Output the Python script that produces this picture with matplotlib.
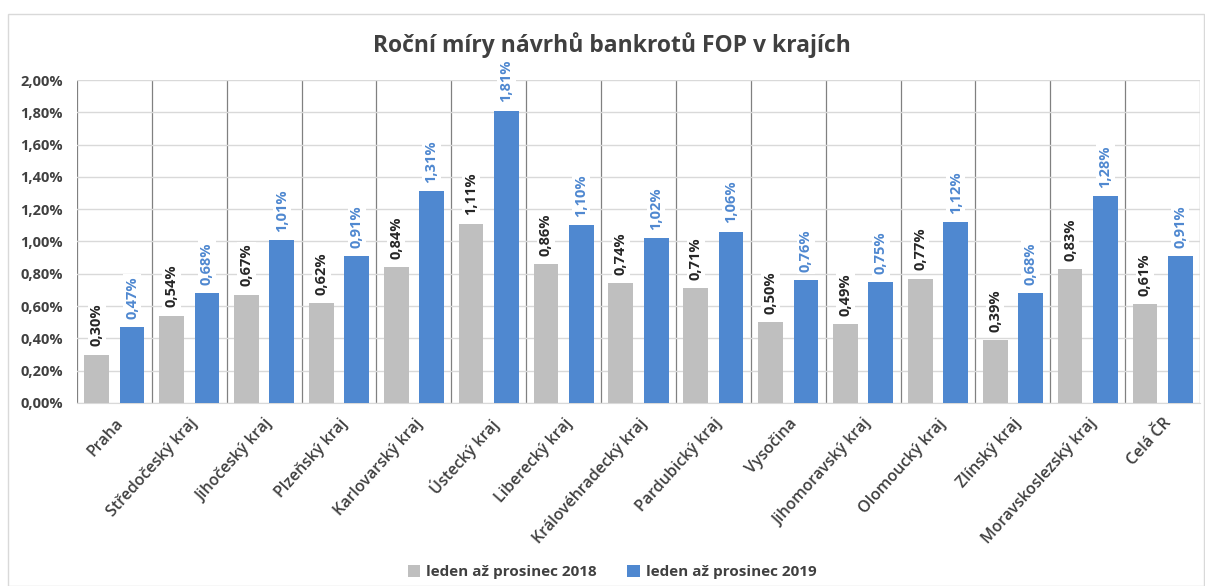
import matplotlib
matplotlib.use("Agg")
import matplotlib.pyplot as plt
from matplotlib.ticker import FuncFormatter, MultipleLocator
from matplotlib.patches import Rectangle
import numpy as np

categories = ["Praha", "Středočeský kraj", "Jihočeský kraj", "Plzeňský kraj",
              "Karlovarský kraj", "Ústecký kraj", "Liberecký kraj",
              "Královéhradecký kraj", "Pardubický kraj", "Vysočina",
              "Jihomoravský kraj", "Olomoucký kraj", "Zlínský kraj",
              "Moravskoslezský kraj", "Celá ČR"]
values_2018 = [0.30, 0.54, 0.67, 0.62, 0.84, 1.11, 0.86, 0.74, 0.71, 0.50,
               0.49, 0.77, 0.39, 0.83, 0.61]
values_2019 = [0.47, 0.68, 1.01, 0.91, 1.31, 1.81, 1.10, 1.02, 1.06, 0.76,
               0.75, 1.12, 0.68, 1.28, 0.91]
series_names = ["leden až prosinec 2018", "leden až prosinec 2019"]
title = "Roční míry návrhů bankrotů FOP v krajích"

plt.rcParams['font.family'] = ['Open Sans', 'DejaVu Sans']

gray = "#BFBFBF"
blue = "#4F88D0"
txt = "#404040"

fig = plt.figure(figsize=(12.05, 5.86), dpi=100)
fig.patches.append(Rectangle((8/1205, 0), 1 - 8/1205 - 0.001, 1 - 14/586,
                             transform=fig.transFigure, fill=False,
                             edgecolor="#D9D9D9", linewidth=1.0))
ax = fig.add_axes([77/1205, 1 - 403/586, (1200 - 77)/1205, (403 - 80)/586])

n = len(categories)
x = np.arange(n)
w = 0.33
off = 0.236
b1 = ax.bar(x - off, values_2018, w, color=gray, label=series_names[0], zorder=3)
b2 = ax.bar(x + off, values_2019, w, color=blue, label=series_names[1], zorder=3)

ax.set_xlim(-0.5, n - 0.5)
ax.set_ylim(0, 2.0)
ax.yaxis.set_major_locator(MultipleLocator(0.2))
ax.yaxis.set_major_formatter(FuncFormatter(lambda v, p: f"{v:.2f}%".replace(".", ",")))
ax.grid(axis="y", color="#D9D9D9", linewidth=1.0, zorder=0)
for xb in np.arange(-0.5, n, 1.0):
    ax.axvline(xb, color="#808080", linewidth=0.9, zorder=1)

for s in ax.spines.values():
    s.set_visible(False)
ax.spines['bottom'].set_visible(True)
ax.spines['bottom'].set_color("#D9D9D9")

ax.tick_params(axis="both", length=0)
ax.tick_params(axis="y", pad=10)
for lab in ax.get_yticklabels():
    lab.set_fontweight("bold")
    lab.set_color(txt)
    lab.set_fontsize(10.5)

ax.set_xticks(x)
ax.set_xticklabels(categories, rotation=48, ha="right", rotation_mode="anchor",
                   fontsize=11.5, color=txt, fontweight="semibold")
ax.tick_params(axis="x", pad=9)

def fmt(v):
    return f"{v:.2f}%".replace(".", ",")

for xi, v in zip(x, values_2018):
    ax.annotate(fmt(v), (xi - off, v), xytext=(0, 6), textcoords="offset points",
                rotation=90, ha="center", va="bottom", fontsize=10.5,
                fontweight="bold", color="#262626", zorder=4,
                bbox=dict(boxstyle="square,pad=0.15", fc="white", ec="none"))
for xi, v in zip(x, values_2019):
    ax.annotate(fmt(v), (xi + off, v), xytext=(0, 6), textcoords="offset points",
                rotation=90, ha="center", va="bottom", fontsize=10.5,
                fontweight="bold", color=blue, zorder=4,
                bbox=dict(boxstyle="square,pad=0.15", fc="white", ec="none"))

fig.text(0.508, 1 - 45/586, title, ha="center", va="center", fontsize=16.5,
         fontweight="bold", color="#404040")

leg = fig.legend(handles=[b1, b2], labels=series_names, loc="center",
                 bbox_to_anchor=(0.508, 1 - 572/586), ncol=2, frameon=False,
                 fontsize=11, handlelength=0.8, handleheight=0.8,
                 columnspacing=2.0, handletextpad=0.4)
for t in leg.get_texts():
    t.set_fontweight("bold")
    t.set_color(txt)

fig.savefig("out.png", dpi=100)
